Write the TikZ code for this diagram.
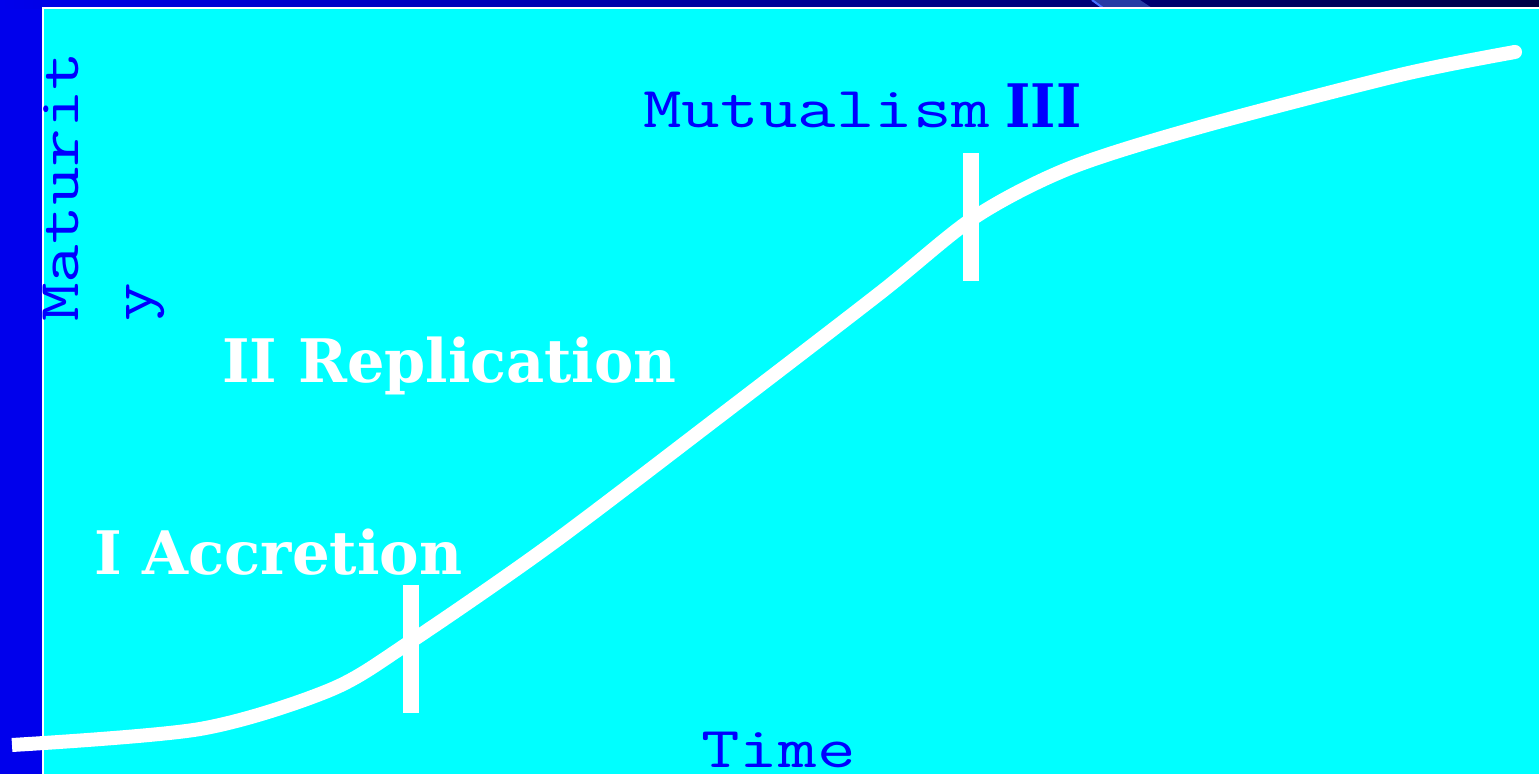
\documentclass[tikz,border=0pt]{standalone}
\usepackage{fontspec}
\usepackage{graphicx}
\newfontfamily\slabf{DejaVu Serif}
\definecolor{stripblue}{RGB}{0,0,236}
\definecolor{navyend}{RGB}{0,0,70}
\definecolor{bgcyan}{RGB}{0,255,255}
\definecolor{txtblue}{RGB}{0,0,255}
\definecolor{diagfill}{RGB}{40,60,165}
\definecolor{diagedge}{RGB}{70,110,255}
\newcommand{\monotxt}[1]{\scalebox{1.29}[1]{#1}}
\tikzset{
  monolabel/.style={font=\ttfamily\fontsize{29}{34}\selectfont, text=txtblue, inner sep=0pt, anchor=base west},
  phaselabel/.style={font=\slabf\bfseries\fontsize{30}{36}\selectfont, text=white, inner sep=0pt, anchor=base west},
  romanlabel/.style={font=\slabf\bfseries\fontsize{30}{36}\selectfont, text=txtblue, inner sep=0pt, anchor=base west},
  curveline/.style={draw=white, line width=7pt, line cap=butt, line join=round},
  tickline/.style={draw=white, line width=8pt, line cap=butt}
}
\begin{document}
\begin{tikzpicture}[x=0.5pt,y=-0.5pt]
\useasboundingbox (0,0) rectangle (1539,774);
% background
\fill[stripblue] (0,0) rectangle (1539,774);
\shade[left color=stripblue, right color=navyend] (0,0) rectangle (1539,8.5);
\fill[diagfill] (1092,0) -- (1140,0) -- (1152,8) -- (1103,8) -- cycle;
\draw[diagedge, line width=1pt] (1092,0) -- (1103,8);
\filldraw[fill=bgcyan, draw=white, line width=1pt] (42.5,8.5) rectangle (1545,780);
% curve
\coordinate (cstart) at (12,745);
\coordinate (cend) at (1515,52);
\draw[curveline] plot[smooth, tension=0.5] coordinates {
 (12,745) (200,729) (330,690) (410,642) (550,545) (720,416) (880,293)
 (975,217) (1070,168) (1200,127) (1400,75) (1515,52)};
\fill[white] (cend) circle (7);
% ticks
\coordinate (t1a) at (411,585);
\coordinate (t1b) at (411,713);
\coordinate (t2a) at (971,153);
\coordinate (t2b) at (971,281);
\draw[tickline] (t1a) -- (t1b);
\draw[tickline] (t2a) -- (t2b);
% labels
\node[monolabel, rotate=90] (mat) at (78,322) {\monotxt{Maturit}};
\node[monolabel, rotate=90] (maty) at (151,322) {\monotxt{y}};
\node[monolabel] (mut) at (643,128) {\monotxt{Mutualism}};
\node[romanlabel] (three) at (1005,128) {\resizebox{38pt}{\height}{III}};
\node[monolabel] (time) at (701,768) {\monotxt{Time}};
\node[phaselabel] (rep) at (222,383) {\resizebox{227pt}{\height}{II Replication}};
\node[phaselabel] (acc) at (94,575) {\resizebox{184pt}{\height}{I Accretion}};
\end{tikzpicture}
\end{document}
